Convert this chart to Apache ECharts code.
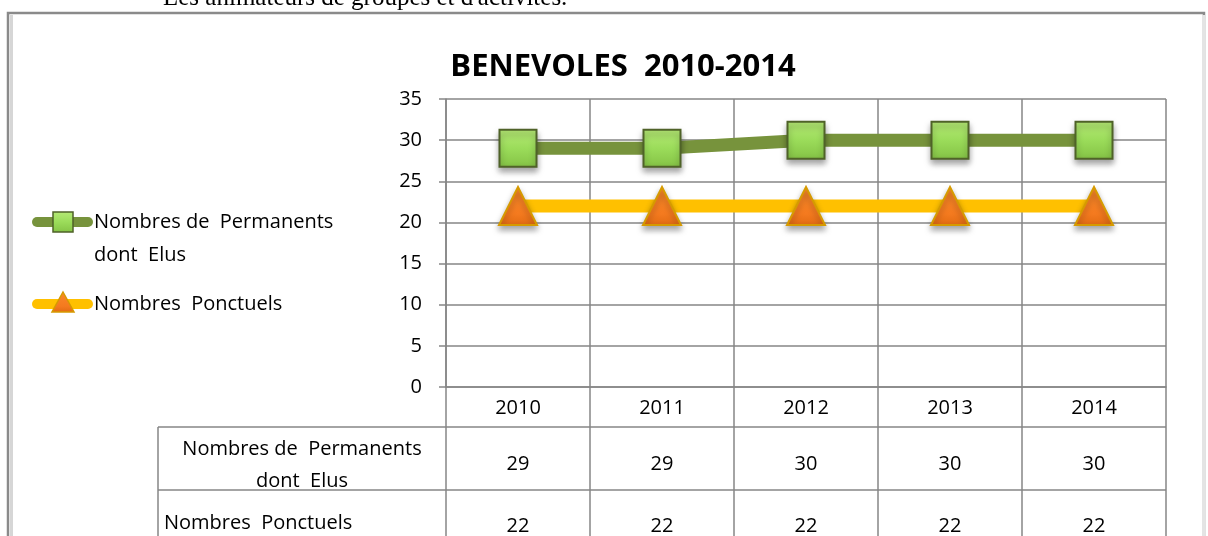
<!DOCTYPE html>
<html>
<head>
<meta charset="utf-8">
<script src="https://cdn.jsdelivr.net/npm/echarts@6/dist/echarts.min.js"></script>
<style>
html,body{margin:0;padding:0;background:#fff;}
#main{width:1208px;height:536px;}
</style>
</head>
<body>
<div id="main"></div>
<script>
// donnees du graphique
var years = ['2010', '2011', '2012', '2013', '2014'];
var permanents = [29, 29, 30, 30, 30];
var ponctuels = [22, 22, 22, 22, 22];
var seriesNames = ['Nombres de  Permanents dont  Elus', 'Nombres  Ponctuels'];
var yTicks = [0, 5, 10, 15, 20, 25, 30, 35];

var font = '"Open Sans", Lato, sans-serif';
var gridLeft = 446, gridRight = 1166, gridTop = 99, gridBottom = 387;
var row1 = 427, row2 = 490, tableLeft = 158, tableBottom = 540;

var greenLine = '#77933C', yellowLine = '#FFC000';
var squareFill = new echarts.graphic.LinearGradient(0, 0, 0, 1, [
	{offset: 0, color: '#b6ea76'},
	{offset: 0.5, color: '#9bdc5a'},
	{offset: 1, color: '#84c245'}
]);
var triFill = new echarts.graphic.LinearGradient(0, 0, 0, 1, [
	{offset: 0, color: '#f98a2a'},
	{offset: 0.7, color: '#f47a1f'},
	{offset: 1, color: '#e06a12'}
]);

var myChart = echarts.init(document.getElementById('main'));

var option = {
	animation: false,
	title: {
		text: 'BENEVOLES  2010-2014',
		left: 618,
		top: 47,
		textAlign: 'center',
		textStyle: {fontFamily: font, fontWeight: 'bold', fontSize: 31, color: '#000'}
	},
	grid: {
		left: gridLeft,
		right: 1208 - gridRight,
		top: gridTop,
		bottom: 536 - gridBottom
	},
	xAxis: {
		type: 'category',
		data: years,
		boundaryGap: true,
		axisLine: {lineStyle: {color: '#868686', width: 1.5}},
		axisTick: {show: false},
		splitLine: {show: true, lineStyle: {color: '#868686', width: 1.5}},
		axisLabel: {fontFamily: font, fontSize: 20, color: '#000', margin: 11}
	},
	yAxis: {
		type: 'value',
		min: yTicks[0],
		max: yTicks[yTicks.length - 1],
		interval: 5,
		axisLine: {show: true, lineStyle: {color: '#868686', width: 1.5}},
		axisTick: {show: true, length: 7, lineStyle: {color: '#868686', width: 1.5}},
		splitLine: {lineStyle: {color: '#868686', width: 1.5}},
		axisLabel: {fontFamily: font, fontSize: 20, color: '#000', margin: 24}
	},
	series: [
		{
			name: seriesNames[0],
			type: 'line',
			data: permanents,
			symbol: 'rect',
			symbolSize: 37,
			lineStyle: {color: greenLine, width: 13},
			itemStyle: {
				color: squareFill,
				borderColor: '#4F6228',
				borderWidth: 2,
				shadowColor: 'rgba(0,0,0,0.35)',
				shadowBlur: 6,
				shadowOffsetY: 4
			},
			z: 3
		},
		{
			name: seriesNames[1],
			type: 'line',
			data: ponctuels,
			symbol: 'triangle',
			symbolSize: [38, 38],
			lineStyle: {color: yellowLine, width: 13},
			itemStyle: {
				color: triFill,
				borderColor: '#D69A00',
				borderWidth: 2,
				shadowColor: 'rgba(0,0,0,0.35)',
				shadowBlur: 6,
				shadowOffsetY: 4
			},
			z: 2
		}
	]
};
myChart.setOption(option);

// legende, tableau de donnees et cadre
function buildExtras() {
	var els = [];
	var lineStyle = {stroke: '#868686', lineWidth: 1.5};
	function hline(x1, x2, y) {
		els.push({type: 'line', shape: {x1: x1, y1: y, x2: x2, y2: y}, style: lineStyle, silent: true});
	}
	function vline(x, y1, y2) {
		els.push({type: 'line', shape: {x1: x, y1: y1, x2: x, y2: y2}, style: lineStyle, silent: true});
	}
	function txt(s, x, y, align) {
		els.push({type: 'text', x: x, y: y, silent: true,
			style: {text: s, fill: '#000', font: '20px ' + font, textAlign: align || 'center', textVerticalAlign: 'middle'}});
	}

	// legende
	var legendY = [222, 304];
	var legendColors = [greenLine, yellowLine];
	for (var k = 0; k < 2; k++) {
		els.push({type: 'line', silent: true, shape: {x1: 37, y1: legendY[k], x2: 88, y2: legendY[k]},
			style: {stroke: legendColors[k], lineWidth: 10, lineCap: 'round'}});
	}
	els.push({type: 'rect', silent: true, shape: {x: 53, y: 212, width: 20, height: 20},
		style: {fill: squareFill, stroke: '#4F6228', lineWidth: 1.5}});
	els.push({type: 'polygon', silent: true, shape: {points: [[63, 292], [74, 312], [52, 312]]},
		style: {fill: triFill, stroke: '#D69A00', lineWidth: 1.5}});
	txt('Nombres de  Permanents', 94, legendY[0], 'left');
	txt('dont  Elus', 94, 255, 'left');
	txt(seriesNames[1], 94, legendY[1], 'left');

	// tableau
	var step = (gridRight - gridLeft) / years.length;
	for (var i = 0; i <= years.length; i++) {
		vline(gridLeft + i * step, gridBottom, tableBottom);
	}
	vline(tableLeft, row1, tableBottom);
	hline(tableLeft, gridRight, row1);
	hline(tableLeft, gridRight, row2);

	txt('Nombres de  Permanents', 302, 449);
	txt('dont  Elus', 302, 481);
	txt(seriesNames[1], 164, 523, 'left');
	for (var i = 0; i < years.length; i++) {
		var cx = myChart.convertToPixel({xAxisIndex: 0}, years[i]);
		txt(String(permanents[i]), cx, 464);
		txt(String(ponctuels[i]), cx, 526);
	}

	// cadre et texte du document
	els.push({type: 'rect', silent: true, shape: {x: 8, y: 13, width: 1196, height: 540},
		style: {fill: 'none', stroke: '#8a8a8a', lineWidth: 2.5}});
	els.push({type: 'rect', silent: true, shape: {x: 10, y: 15, width: 3, height: 530},
		style: {fill: '#d6d6d6'}});
	els.push({type: 'rect', silent: true, shape: {x: 1202, y: 15, width: 3, height: 530},
		style: {fill: '#e4e4e4'}});
	els.push({type: 'text', x: 163, y: 11, silent: true,
		style: {text: "Les animateurs de groupes et d'activités.", fill: '#000',
			font: '25px "Liberation Serif", serif', textAlign: 'left', textVerticalAlign: 'bottom'}});
	myChart.setOption({graphic: {elements: els}});
}
buildExtras();
</script>
</body>
</html>
